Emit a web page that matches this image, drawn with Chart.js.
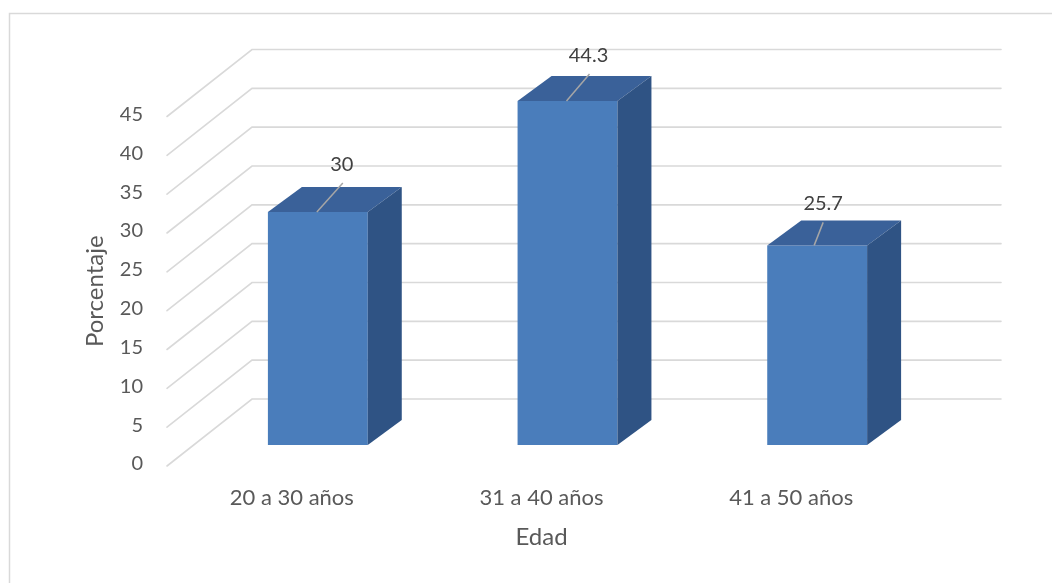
<!DOCTYPE html>
<html><head><meta charset="utf-8">
<script src="https://cdn.jsdelivr.net/npm/chart.js@4.4.1/dist/chart.umd.min.js"></script>
<style>html,body{margin:0;padding:0;background:#fff;overflow:hidden}#wrap{position:relative;width:1052px;height:583px}</style>
</head><body><div id="wrap"><canvas id="c" width="1052" height="583"></canvas></div>
<script>
const categories = ['20 a 30 años', '31 a 40 años', '41 a 50 años'];
const porcentaje = [30, 44.3, 25.7];
const yMin = 0, yMax = 45, yStep = 5;
const xTitle = 'Edad';
const yTitle = 'Porcentaje';

const FONT = 'Lato, "Open Sans", sans-serif';
const TEXT = '#595959';
const GRID = '#d9d9d9';
const FRONT = {dx: -26, dy: 21};   // label plane offset from bar plane
const BACK = {dx: 59, dy: -46};    // back wall offset from bar plane
const DEPTH = {dx: 34, dy: -25};   // bar depth

const framePlugin = {
  id: 'frame',
  beforeDraw(chart) {
    const ctx = chart.ctx;
    ctx.save();
    ctx.strokeStyle = GRID; ctx.lineWidth = 1.5;
    ctx.beginPath();
    ctx.moveTo(9.5, 583); ctx.lineTo(9.5, 13.5); ctx.lineTo(1052, 13.5);
    ctx.stroke();
    ctx.restore();
  }
};

const wallPlugin = {
  id: 'wall3d',
  beforeDatasetsDraw(chart) {
    const ctx = chart.ctx, ys = chart.scales.y, xs = chart.scales.x;
    ctx.save();
    ctx.strokeStyle = GRID; ctx.lineWidth = 1.6; ctx.lineCap = 'round';
    ys.ticks.forEach(t => {
      const y = ys.getPixelForValue(t.value);
      ctx.beginPath();
      ctx.moveTo(xs.left + FRONT.dx, y + FRONT.dy);
      ctx.lineTo(xs.left + BACK.dx, y + BACK.dy);
      ctx.lineTo(xs.right + BACK.dx, y + BACK.dy);
      ctx.stroke();
    });
    ctx.restore();
  }
};

const barPlugin = {
  id: 'bar3d',
  afterDatasetsDraw(chart, args, opts) {
    const ctx = chart.ctx;
    const meta = chart.getDatasetMeta(0);
    ctx.save();
    meta.data.forEach((el, i) => {
      const p = el.getProps(['x', 'y', 'base', 'width'], true);
      const l = p.x - p.width / 2, r = p.x + p.width / 2;
      // top face
      ctx.fillStyle = opts.topColor;
      ctx.beginPath();
      ctx.moveTo(l, p.y); ctx.lineTo(r, p.y);
      ctx.lineTo(r + DEPTH.dx, p.y + DEPTH.dy); ctx.lineTo(l + DEPTH.dx, p.y + DEPTH.dy);
      ctx.closePath(); ctx.fill();
      // side face
      ctx.fillStyle = opts.sideColor;
      ctx.beginPath();
      ctx.moveTo(r, p.y); ctx.lineTo(r + DEPTH.dx, p.y + DEPTH.dy);
      ctx.lineTo(r + DEPTH.dx, p.base + DEPTH.dy); ctx.lineTo(r, p.base);
      ctx.closePath(); ctx.fill();
      // data label with leader line
      const o = opts.labelOffsets[i];
      ctx.strokeStyle = '#a6a6a6'; ctx.lineWidth = 1.5;
      ctx.beginPath();
      ctx.moveTo(p.x + o.l0, p.y); ctx.lineTo(p.x + o.lx, p.y + o.ly);
      ctx.stroke();
      ctx.fillStyle = '#404040';
      ctx.font = '20px ' + FONT;
      ctx.textAlign = 'center'; ctx.textBaseline = 'middle';
      ctx.fillText(String(porcentaje[i]), p.x + o.tx, p.y + o.ty);
    });
    ctx.restore();
  }
};

const titlePlugin = {
  id: 'axisTitles',
  afterDraw(chart) {
    const ctx = chart.ctx, ys = chart.scales.y, xs = chart.scales.x;
    ctx.save();
    ctx.fillStyle = TEXT;
    ctx.font = '24px ' + FONT;
    ctx.textAlign = 'center'; ctx.textBaseline = 'middle';
    ctx.fillText(xTitle, (xs.left + xs.right) / 2 + FRONT.dx, ys.bottom + 92);
    ctx.translate(95, (ys.top + ys.bottom) / 2 + FRONT.dy);
    ctx.rotate(-Math.PI / 2);
    ctx.fillText(yTitle, 0, 0);
    ctx.restore();
  }
};

new Chart(document.getElementById('c'), {
  type: 'bar',
  data: {
    labels: categories,
    datasets: [{
      data: porcentaje,
      backgroundColor: '#4a7dbb',
      borderWidth: 0,
      categoryPercentage: 1,
      barPercentage: 0.4
    }]
  },
  plugins: [framePlugin, wallPlugin, barPlugin, titlePlugin],
  options: {
    responsive: false,
    animation: false,
    devicePixelRatio: 1,
    layout: {padding: {left: 0, top: 95.5, right: 110, bottom: 0}},
    plugins: {
      legend: {display: false},
      tooltip: {enabled: false},
      bar3d: {
        topColor: '#3a6199',
        sideColor: '#2f5384',
        labelOffsets: [
          {l0: -1, lx: 25, ly: -29, tx: 24, ty: -47},
          {l0: -1, lx: 22, ly: -27, tx: 21, ty: -45},
          {l0: -3, lx: 6, ly: -23, tx: 6, ty: -42}
        ]
      }
    },
    scales: {
      x: {
        grid: {display: false, drawTicks: false},
        border: {display: false},
        ticks: {color: TEXT, font: {family: FONT, size: 22}, padding: 40, labelOffset: FRONT.dx, maxRotation: 0},
        afterFit(s) { s.height = 138; }
      },
      y: {
        min: yMin, max: yMax,
        grid: {display: false, drawTicks: false},
        border: {display: false},
        ticks: {stepSize: yStep, color: TEXT, font: {family: FONT, size: 20}, padding: 50, labelOffset: FRONT.dy - 2},
        afterFit(s) { s.width = 193; }
      }
    }
  }
});
</script></body></html>
